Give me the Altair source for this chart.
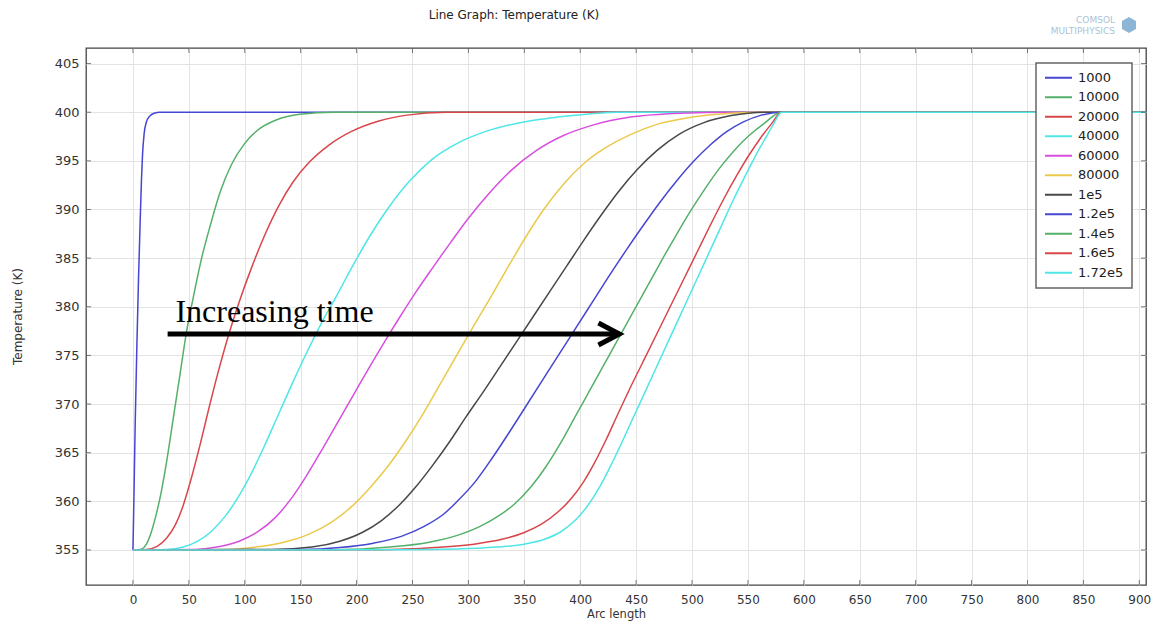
import altair as alt
import pandas as pd

# ---------------- data ----------------
series_labels = ["1000", "10000", "20000", "40000", "60000", "80000",
                 "1e5", "1.2e5", "1.4e5", "1.6e5", "1.72e5"]
series_colors = ["#4646d2", "#55b06a", "#d9464a", "#4ee6e6", "#d84fdf", "#ebc94b",
                 "#484848", "#4646d2", "#55b06a", "#d9464a", "#4ee6e6"]

arc_end = 906
plateau_t = 400

x_1000 = [0, 0.8, 2, 3.5, 5, 6.5, 7.6, 8.5, 10, 12, 15, 19, 24]
t_1000 = [355, 360, 368, 376, 383, 389, 393, 395.5, 397.8, 399, 399.6, 399.9, 400]

x_10000 = [0, 4, 8, 12, 16, 20, 25, 30, 36, 42, 48, 54, 61, 69, 78, 88, 100, 112, 128, 149, 180]
t_10000 = [355, 355.02, 355.1, 355.6, 356.7, 358.3, 360.8, 364, 368.5, 373, 377.5, 381,
           384.8, 388.3, 391.8, 394.6, 396.8, 398.2, 399.2, 399.8, 400]

x_20000 = [0, 12, 22, 30, 38, 45, 52, 60, 68, 76, 85, 95, 106, 118, 130, 143, 158, 175,
           195, 220, 245, 280]
t_20000 = [355, 355.05, 355.4, 356.2, 357.6, 359.6, 362.3, 365.8, 369.6, 373.2, 376.9,
           380.5, 384, 387.4, 390.3, 392.8, 394.9, 396.6, 398, 399.1, 399.7, 400]

x_40000 = [0, 30, 45, 58, 70, 82, 94, 106, 118, 130, 142, 155, 168, 182, 197, 212, 228,
           248, 268, 290, 315, 345, 380, 410, 435]
t_40000 = [355, 355.05, 355.3, 355.9, 356.9, 358.4, 360.4, 362.9, 365.8, 368.9, 372,
           375.2, 378.2, 381.1, 384.3, 387.3, 390.1, 393.0, 395.2, 396.8, 398.0, 398.9,
           399.5, 399.85, 400]

x_60000 = [0, 55, 75, 95, 112, 127, 141, 155, 169, 183, 197, 211, 225, 239, 253, 268,
           284, 300, 318, 338, 360, 385, 412, 445, 490, 535]
t_60000 = [355, 355.05, 355.3, 355.9, 356.9, 358.3, 360.2, 362.6, 365.3, 368.1, 370.9,
           373.7, 376.4, 379, 381.5, 384, 386.6, 389.1, 391.6, 394, 396, 397.6, 398.7,
           399.5, 399.9, 400]

x_80000 = [0, 85, 110, 135, 157, 177, 195, 212, 228, 244, 260, 275, 290, 305, 320, 336,
           352, 368, 385, 403, 422, 445, 470, 500, 535, 570]
t_80000 = [355, 355.05, 355.3, 355.8, 356.6, 357.8, 359.4, 361.4, 363.6, 366.2, 369.1,
           372.1, 375.1, 378.1, 381, 384.2, 387.3, 390.1, 392.6, 394.7, 396.3, 397.7,
           398.8, 399.5, 399.9, 400]

x_1e5 = [0, 125, 160, 185, 205, 222, 238, 253, 268, 283, 298, 313, 328, 343, 358, 373,
         388, 403, 418, 434, 451, 469, 488, 510, 535, 565]
t_1e5 = [355, 355.05, 355.3, 355.9, 356.8, 358, 359.6, 361.5, 363.7, 366.1, 368.7, 371.2,
         373.8, 376.4, 379, 381.6, 384.2, 386.8, 389.3, 391.8, 394.1, 396.1, 397.7, 398.9,
         399.65, 400]

x_1_2e5 = [0, 150, 185, 215, 240, 260, 278, 290, 306, 321, 336, 351, 366, 381, 396, 411,
           426, 441, 456, 471, 486, 501, 516, 531, 546, 562, 580]
t_1_2e5 = [355, 355.05, 355.25, 355.7, 356.4, 357.4, 358.7, 360, 362, 364.4, 367, 369.7,
           372.4, 375.1, 377.8, 380.5, 383.2, 385.8, 388.3, 390.7, 392.9, 394.9, 396.6,
           398, 399, 399.7, 400]

x_1_4e5 = [0, 180, 230, 265, 290, 310, 327, 342, 356, 369, 382, 395, 408, 421, 434, 447,
           460, 473, 486, 499, 512, 525, 538, 551, 564, 580]
t_1_4e5 = [355, 355.03, 355.3, 355.8, 356.5, 357.4, 358.5, 359.8, 361.5, 363.5, 365.9,
           368.6, 371.3, 374, 376.7, 379.4, 382.1, 384.8, 387.4, 389.9, 392.2, 394.3,
           396.1, 397.6, 398.8, 400]

x_1_6e5 = [0, 220, 270, 305, 330, 350, 366, 380, 392, 403, 413, 423, 433, 444, 456, 468,
           480, 492, 504, 516, 528, 540, 551, 561, 571, 580]
t_1_6e5 = [355, 355.03, 355.25, 355.6, 356.1, 356.8, 357.7, 358.9, 360.3, 362, 364, 366.3,
           368.8, 371.5, 374.3, 377.1, 379.9, 382.7, 385.5, 388.3, 391, 393.5, 395.6,
           397.3, 398.8, 400]

x_1_72e5 = [0, 240, 290, 325, 350, 368, 383, 396, 407, 417, 427, 437, 447, 457, 467, 477,
            487, 497, 507, 517, 527, 537, 546, 554, 561, 567, 573, 580]
t_1_72e5 = [355, 355.02, 355.1, 355.3, 355.6, 356.1, 356.9, 358.1, 359.6, 361.4, 363.6,
            366, 368.5, 371, 373.5, 376, 378.5, 381, 383.5, 386, 388.5, 391, 393.1, 394.9,
            396.4, 397.6, 398.8, 400]

series_x = [x_1000, x_10000, x_20000, x_40000, x_60000, x_80000,
            x_1e5, x_1_2e5, x_1_4e5, x_1_6e5, x_1_72e5]
series_t = [t_1000, t_10000, t_20000, t_40000, t_60000, t_80000,
            t_1e5, t_1_2e5, t_1_4e5, t_1_6e5, t_1_72e5]

x_ticks = [0, 50, 100, 150, 200, 250, 300, 350, 400, 450, 500, 550, 600,
           650, 700, 750, 800, 850, 900]
y_ticks = [355, 360, 365, 370, 375, 380, 385, 390, 395, 400, 405]

x_domain = [-42, 906]
y_domain = [351.4, 406.6]

# annotation (data coordinates)
arrow_x = [31, 435]
arrow_t = 377.2
label_x = 38
label_t = 378.4
label_text = "Increasing time"

title_text = "Line Graph: Temperature (K)"
logo_lines = ["COMSOL", "MULTIPHYSICS"]

W, H = 1060, 537

# ---------------- table ----------------
rows = []
for k, (lab, xs, ts) in enumerate(zip(series_labels, series_x, series_t)):
    for i, (xv, tv) in enumerate(zip(xs + [arc_end], ts + [plateau_t])):
        rows.append({"series": lab, "k": k, "i": i, "x": xv, "t": tv})
df = pd.DataFrame(rows)

font = "DejaVu Sans"
xs_ = alt.Scale(domain=x_domain, nice=False, zero=False)
ys_ = alt.Scale(domain=y_domain, nice=False, zero=False)
x_axis = alt.Axis(
    values=x_ticks, title="Arc length", grid=True, ticks=False, tickSize=0,
    domain=False, labelPadding=9, labelFontSize=12, labelFont=font,
    labelColor="#333", labelFlush=False, titleFont=font, titleFontSize=11.5,
    titleFontWeight="normal", titleColor="#333", titleY=29,
    titleBaseline="middle", gridColor="#e3e3e3", gridWidth=1)
y_axis = alt.Axis(
    values=y_ticks, title="Temperature (K)", grid=True, ticks=False, tickSize=0,
    domain=False, labelPadding=7, labelFontSize=13, labelFont=font,
    labelColor="#333", labelFlush=False, titleFont=font, titleFontSize=12,
    titleFontWeight="normal", titleColor="#333", titleX=-69, titleY=268,
    titleAngle=-90, titleAlign="center", titleBaseline="middle",
    gridColor="#e3e3e3", gridWidth=1)


def X(f):
    return alt.X(f, scale=xs_, axis=x_axis, title="Arc length")


def Y(f):
    return alt.Y(f, scale=ys_, axis=y_axis, title="Temperature (K)")


lines = alt.Chart(df).mark_line(strokeWidth=1.5, interpolate="monotone", clip=True).encode(
    x=X("x:Q"),
    y=Y("t:Q"),
    color=alt.Color("series:N", sort=series_labels,
                    scale=alt.Scale(domain=series_labels, range=series_colors),
                    legend=alt.Legend(orient="none", legendX=950, legendY=15, title=None,
                                      symbolType="stroke", symbolSize=729,
                                      symbolStrokeWidth=2, labelFontSize=13,
                                      labelFont=font, labelColor="#222",
                                      labelOffset=5, rowPadding=5.5, clipHeight=13.5)),
    detail="k:O",
    order="i:Q",
)

# inner ticks on four sides
xt = pd.DataFrame({"x": x_ticks})
yt = pd.DataFrame({"t": y_ticks})
tick_color = "#444"
bt = alt.Chart(xt).mark_tick(size=5, thickness=1, color=tick_color).encode(
    x=X("x:Q"), y=alt.value(H - 2.5))
tt = alt.Chart(xt).mark_tick(size=5, thickness=1, color=tick_color).encode(
    x=X("x:Q"), y=alt.value(2.5))
lt = alt.Chart(yt).mark_tick(size=5, thickness=1, color=tick_color).encode(
    y=Y("t:Q"), x=alt.value(2.5))
rt = alt.Chart(yt).mark_tick(size=5, thickness=1, color=tick_color).encode(
    y=Y("t:Q"), x=alt.value(W - 2.5))

# arrow annotation
arrow_df = pd.DataFrame({"x": [arrow_x[0]], "x1": [arrow_x[1]], "t": [arrow_t]})
head_df = pd.DataFrame({"x": [arrow_x[1]], "t": [arrow_t]})
arrow_line = alt.Chart(arrow_df).mark_rule(strokeWidth=5, color="black").encode(
    x=X("x:Q"), x2="x1:Q", y=Y("t:Q"))
arrow_head = alt.Chart(head_df).mark_point(
    shape="M-1.9,-1L0,0L-1.9,1", size=484, filled=False, strokeWidth=5,
    color="black", opacity=1, strokeJoin="miter").encode(x=X("x:Q"), y=Y("t:Q"))
label_df = pd.DataFrame({"x": [label_x], "t": [label_t], "s": [label_text]})
label = alt.Chart(label_df).mark_text(
    align="left", baseline="alphabetic", font="Liberation Serif", fontSize=32,
    color="black").encode(x=X("x:Q"), y=Y("t:Q"), text="s:N")

# title and logo
title = alt.Chart(pd.DataFrame({"s": [title_text]})).mark_text(
    align="center", baseline="middle", font=font, fontSize=12, color="#222").encode(
    x=alt.value(428), y=alt.value(-33), text="s:N")
logo1 = alt.Chart(pd.DataFrame({"s": [logo_lines[0]]})).mark_text(
    align="right", baseline="middle", font=font, fontSize=9, color="#a9c3d6").encode(
    x=alt.value(1029), y=alt.value(-28), text="s:N")
logo2 = alt.Chart(pd.DataFrame({"s": [logo_lines[1]]})).mark_text(
    align="right", baseline="middle", font=font, fontSize=9, color="#a9c3d6").encode(
    x=alt.value(1029), y=alt.value(-17), text="s:N")
cube = alt.Chart(pd.DataFrame({"s": ["c"]})).mark_point(
    shape="M0,-1L0.87,-0.5L0.87,0.5L0,1L-0.87,0.5L-0.87,-0.5Z", size=260, filled=True,
    color="#8db6d6", opacity=1).encode(x=alt.value(1043), y=alt.value(-23))

chart = alt.layer(
    lines, bt, tt, lt, rt, arrow_line, arrow_head, label, title, logo1, logo2, cube
).properties(
    width=W, height=H,
    autosize=alt.AutoSizeParams(type="none"),
    padding={"left": 86, "top": 48, "right": 5, "bottom": 40},
    background="white",
).configure_view(
    stroke="#444", strokeWidth=1.3
).configure_legend(
    strokeColor="#666", fillColor="white", strokeWidth=1.5, padding=8, cornerRadius=0
)

chart.save("out.html", embed_options={"renderer": "svg", "actions": False})
